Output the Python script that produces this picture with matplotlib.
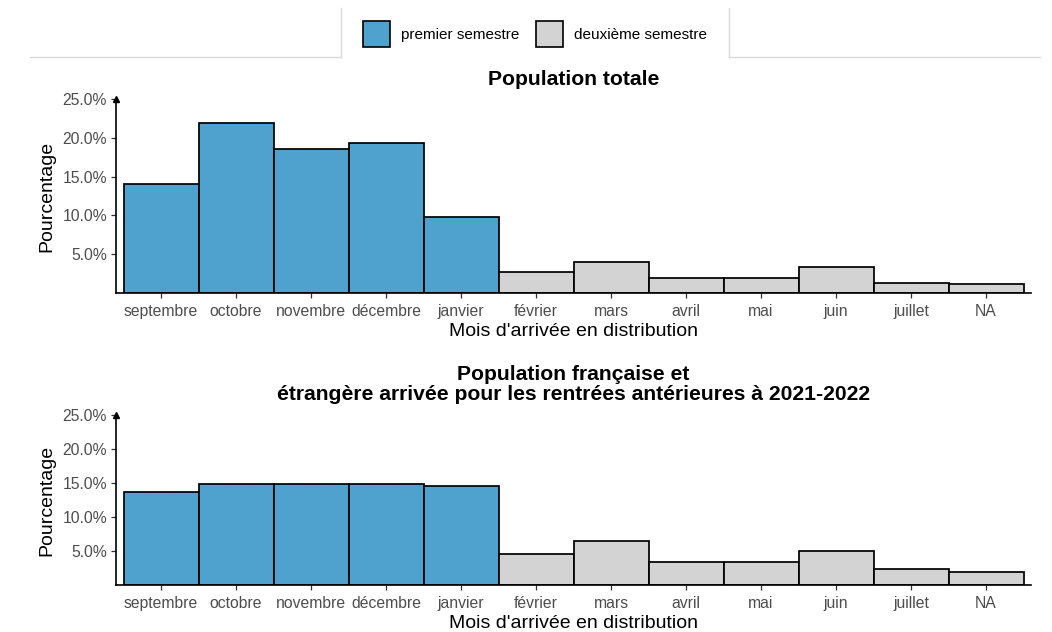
import matplotlib
matplotlib.use("Agg")
import matplotlib.pyplot as plt
from matplotlib.patches import Patch
from matplotlib.lines import Line2D
import numpy as np

plt.rcParams['font.family'] = ['Liberation Sans', 'DejaVu Sans']

mois = ["septembre", "octobre", "novembre", "décembre", "janvier", "février",
        "mars", "avril", "mai", "juin", "juillet", "NA"]
semestre = ["premier semestre"] * 5 + ["deuxième semestre"] * 7

# pourcentages
pct_total = [14.0, 21.9, 18.6, 19.3, 9.8, 2.7, 4.0, 1.9, 1.9, 3.4, 1.3, 1.1]
pct_anterieur = [13.7, 14.9, 14.9, 14.9, 14.5, 4.5, 6.5, 3.4, 3.4, 5.0, 2.3, 1.9]

titres = ["Population totale",
          "Population française et\nétrangère arrivée pour les rentrées antérieures à 2021-2022"]
yticks = [5, 10, 15, 20, 25]

couleurs = {"premier semestre": "#4FA2CD", "deuxième semestre": "#D3D3D3"}

W, H = 1052, 632
fig = plt.figure(figsize=(W / 100, H / 100), dpi=100)


def px(x0, y0, x1, y1):
    # rectangle en pixels (origine en haut a gauche) -> fraction de figure
    return [x0 / W, 1 - y1 / H, (x1 - x0) / W, (y1 - y0) / H]


ax1 = fig.add_axes(px(116, 99, 1031, 293))
ax2 = fig.add_axes(px(116, 415, 1031, 585))

for ax, vals, titre, pad in [(ax1, pct_total, titres[0], 10),
                             (ax2, pct_anterieur, titres[1], 11)]:
    x = np.arange(len(mois))
    cols = [couleurs[s] for s in semestre]
    ax.bar(x, vals, width=1.0, color=cols, edgecolor="black", linewidth=1.25,
           zorder=2)
    ax.set_xlim(-0.6, len(mois) - 0.4)
    ax.set_ylim(0, 25)
    ax.set_xticks(x)
    ax.set_xticklabels(mois)
    ax.set_yticks(yticks)
    ax.set_yticklabels(["%.1f%%" % v for v in yticks])
    for s in ["top", "right"]:
        ax.spines[s].set_visible(False)
    for s in ["left", "bottom"]:
        ax.spines[s].set_linewidth(1.2)
        ax.spines[s].set_color("black")
    ax.tick_params(axis="both", length=3.5, width=0.9, color="#333333",
                   labelcolor="#4D4D4D", labelsize=11.3, pad=3)
    ax.tick_params(axis="x", pad=4.5)
    ax.set_xlabel("Mois d'arrivée en distribution", fontsize=14,
                  labelpad=2.5)
    ax.set_ylabel("Pourcentage", fontsize=14, labelpad=5)
    ax.set_title(titre, fontsize=15.2, fontweight="bold", pad=pad,
                 linespacing=1.08)
    # fleche au bout de l'axe y
    ax.plot(0, 1.0, marker="^", markersize=4.5, color="black",
            transform=ax.transAxes, clip_on=False, zorder=5)

# legende en haut
handles = [Patch(facecolor=couleurs[k], edgecolor="black", linewidth=1.2,
                 label=k) for k in couleurs]
fig.legend(handles=handles, loc="center", ncol=2, frameon=False,
           bbox_to_anchor=(535 / W, 1 - 34 / H), fontsize=11,
           handlelength=1.75, handleheight=2.2, handletextpad=0.7,
           columnspacing=1.1)

# traits gris clair autour de la legende
gris = "#D9D9D9"
for (xa, ya, xb, yb) in [(30, 57, 341, 57), (341, 8, 341, 57),
                         (729, 8, 729, 57), (729, 57, 1040, 57)]:
    fig.add_artist(Line2D([xa / W, xb / W], [1 - ya / H, 1 - yb / H],
                          color=gris, linewidth=1.0))

fig.savefig("out.png", dpi=100)
